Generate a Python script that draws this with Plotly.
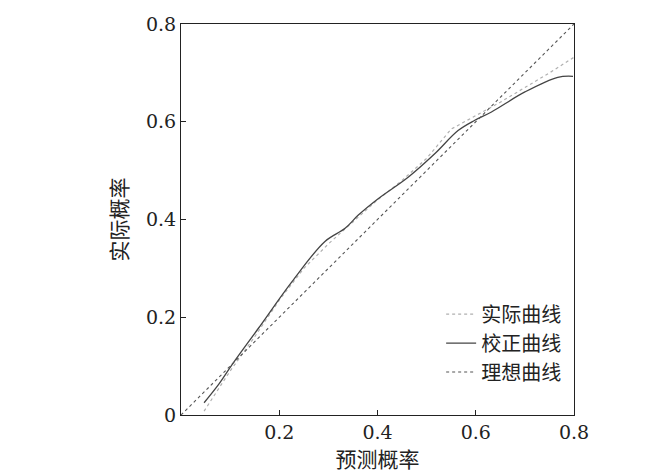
import plotly.graph_objects as go

x_cal = [0.047, 0.077, 0.104, 0.158, 0.226, 0.293, 0.334, 0.361, 0.402, 0.463, 0.517, 0.564, 0.598, 0.632, 0.700, 0.767, 0.798]
y_cal = [0.025, 0.063, 0.103, 0.178, 0.273, 0.355, 0.382, 0.409, 0.443, 0.487, 0.535, 0.582, 0.603, 0.620, 0.661, 0.691, 0.693]
x_act = [0.047, 0.1, 0.15, 0.2, 0.25, 0.3, 0.35, 0.4, 0.45, 0.5, 0.55, 0.6, 0.65, 0.7, 0.75, 0.8]
y_act = [0.008, 0.09, 0.16, 0.235, 0.3, 0.35, 0.395, 0.44, 0.48, 0.525, 0.585, 0.613, 0.64, 0.67, 0.70, 0.732]
x_ideal = [0, 0.8]
y_ideal = [0, 0.8]
ticks = [0, 0.2, 0.4, 0.6, 0.8]

cjk = "Noto Sans CJK SC"
serif = "DejaVu Serif"

fig = go.Figure()
fig.add_trace(go.Scatter(x=x_act, y=y_act, mode="lines", name="实际曲线",
                         line=dict(color="#b0b0b0", width=1.2, dash="dot")))
fig.add_trace(go.Scatter(x=x_cal, y=y_cal, mode="lines", name="校正曲线",
                         line=dict(color="#444444", width=1.3, shape="spline")))
fig.add_trace(go.Scatter(x=x_ideal, y=y_ideal, mode="lines", name="理想曲线",
                         line=dict(color="#555555", width=1.1, dash="dot")))

axis = dict(range=[0, 0.8], showgrid=False, zeroline=False, showline=True, mirror=True,
            linecolor="#222", linewidth=1.2, ticks="inside", ticklen=5, tickcolor="#222",
            automargin=False, tickfont=dict(family=serif, size=19, color="#222"))
fig.update_xaxes(axis, tickvals=ticks[1:], ticktext=["0.2", "0.4", "0.6", "0.8"],
                 title=dict(text="预测概率", font=dict(family=cjk, size=21, color="#222"), standoff=6))
fig.update_yaxes(axis, tickvals=ticks, ticktext=["0", "0.2", "0.4", "0.6", "0.8"],
                 title=dict(text="实际概率", font=dict(family=cjk, size=21, color="#222"), standoff=12))
fig.update_layout(
    width=665, height=474, autosize=False, plot_bgcolor="white", paper_bgcolor="white",
    margin=dict(l=173, r=99, t=16, b=67),
    legend=dict(x=0.98, y=0.06, xanchor="right", yanchor="bottom", bgcolor="rgba(0,0,0,0)",
                font=dict(family=cjk, size=20, color="#222"), tracegroupgap=0),
    showlegend=True,
)
fig.write_html("out.html")
